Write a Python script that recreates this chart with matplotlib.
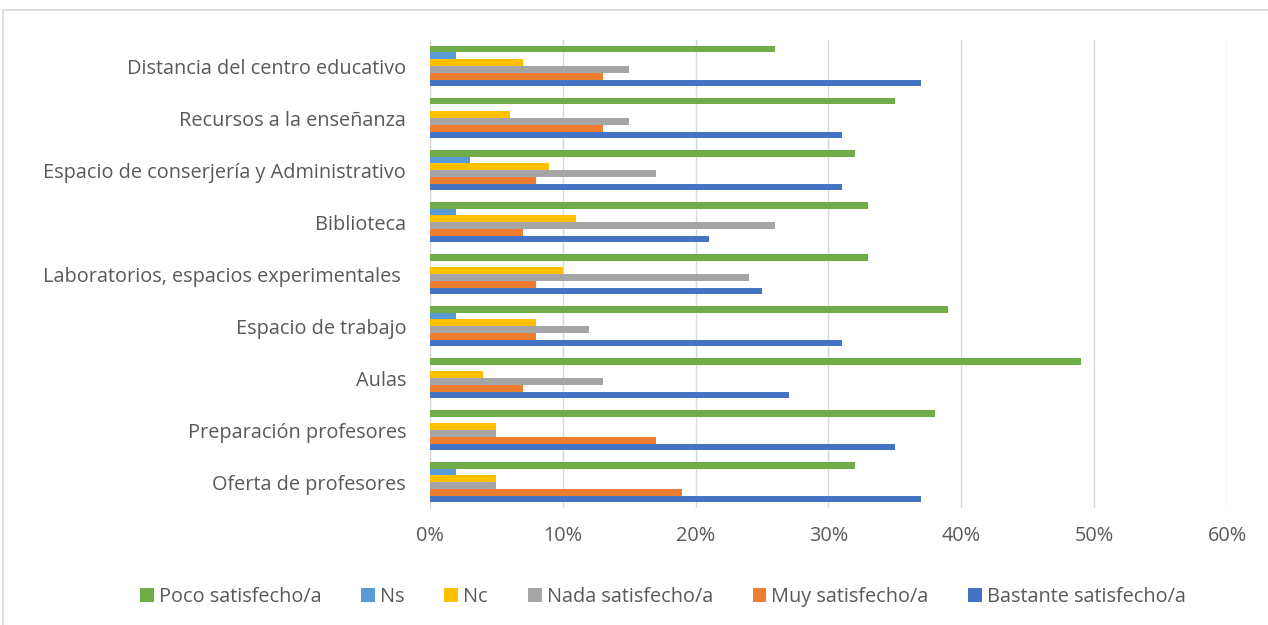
import numpy as np
import matplotlib.pyplot as plt
import matplotlib.patches as mpatches
from matplotlib.ticker import PercentFormatter

# categories listed bottom -> top, as drawn on the y axis
categorias = ["Oferta de profesores", "Preparación profesores", "Aulas",
              "Espacio de trabajo", "Laboratorios, espacios experimentales ",
              "Biblioteca", "Espacio de conserjería y Administrativo",
              "Recursos a la enseñanza", "Distancia del centro educativo"]

poco = [32, 38, 49, 39, 33, 33, 32, 35, 26]
ns = [2, 0, 0, 2, 0, 2, 3, 0, 2]
nc = [5, 5, 4, 8, 10, 11, 9, 6, 7]
nada = [5, 5, 13, 12, 24, 26, 17, 15, 15]
muy = [19, 17, 7, 8, 8, 7, 8, 13, 13]
bastante = [37, 35, 27, 31, 25, 21, 31, 31, 37]

series = ["Poco satisfecho/a", "Ns", "Nc", "Nada satisfecho/a",
          "Muy satisfecho/a", "Bastante satisfecho/a"]
valores = [poco, ns, nc, nada, muy, bastante]
colores = ["#70AD47", "#5B9BD5", "#FFC000", "#A5A5A5", "#ED7D31", "#4472C4"]

plt.rcParams['font.family'] = ['Open Sans', 'DejaVu Sans']

fig = plt.figure(figsize=(12.68, 6.25), dpi=100)
ax = fig.add_axes([0.339, 0.187, 0.6287, 0.749])

y = np.arange(len(categorias))
h = 0.13
for i, (nombre, vals, c) in enumerate(zip(series, valores, colores)):
    ax.barh(y + (2.5 - i) * h, vals, height=h, color=c, label=nombre, zorder=3)

ax.set_xlim(0, 60)
ax.set_ylim(-0.5, len(categorias) - 0.5)
ax.set_xticks(np.arange(0, 61, 10))
ax.xaxis.set_major_formatter(PercentFormatter(decimals=0))
ax.set_yticks(y)
ax.set_yticklabels(categorias)
ax.tick_params(axis='both', length=0, labelsize=14.3, colors='#595959')
ax.tick_params(axis='x', pad=13)
ax.tick_params(axis='y', pad=17)
ax.grid(axis='x', color='#D9D9D9', linewidth=1, zorder=0)
for s in ['top', 'right', 'bottom']:
    ax.spines[s].set_visible(False)
ax.spines['left'].set_color('#D9D9D9')

ax.legend(loc='center', bbox_to_anchor=(0.523, 0.045), bbox_transform=fig.transFigure,
          ncol=6, frameon=False, fontsize=14.3, handlelength=0.7, handleheight=0.7,
          handletextpad=0.25, columnspacing=2.0, labelcolor='#595959')

# outer chart frame (cut off at right and bottom in the original)
fig.patches.append(mpatches.Rectangle((3 / 1268, -0.1), 1.2, 1 - 10 / 625 + 0.1,
                                      transform=fig.transFigure, fill=False,
                                      edgecolor='#D9D9D9', linewidth=1.2))

fig.savefig("out.png", dpi=100)
